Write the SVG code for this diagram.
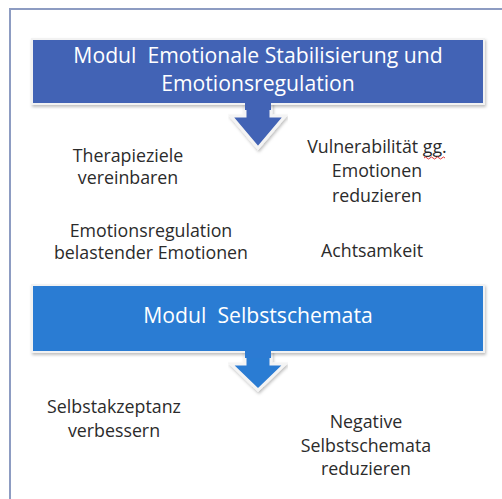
<svg xmlns="http://www.w3.org/2000/svg" width="502" height="499" viewBox="0 0 502 499">
<defs>
<style>
.frame{stroke:#8d9cc2;stroke-width:2;fill:none}
.t{font-family:"Open Sans","Noto Sans","Liberation Sans",sans-serif;fill:#2b2b2b;font-size:17.8px;text-anchor:middle}
.h{font-family:"Open Sans","Noto Sans","Liberation Sans",sans-serif;fill:#ffffff;font-size:21.2px;text-anchor:middle}
.edge{stroke:#f4f4f4;stroke-width:3;stroke-linejoin:miter}
</style>
<filter id="ds" x="-5%" y="-5%" width="110%" height="120%">
<feDropShadow dx="1" dy="2" stdDeviation="1.5" flood-color="#000" flood-opacity="0.25"/>
</filter>
</defs>
<rect width="502" height="499" fill="#ffffff"/>
<path class="frame" d="M10,499 V9 H502"/>
<g id="connectors">
<path id="arrow1" d="M245,100 V116 H231 L258,148 L285,116 H271 V100 Z" fill="#4263b5" class="edge" filter="url(#ds)"/>
<path id="arrow2" d="M245,348 V364 H231 L258,390 L285,364 H271 V348 Z" fill="#2c7bd3" class="edge" filter="url(#ds)"/>
</g>
<g id="modul1">
<rect x="32" y="39" width="452" height="65" fill="#4263b5" stroke="#f2f2f2" stroke-width="2" filter="url(#ds)"/>
<path d="M245,102 V110 H271 V102 Z" fill="#4263b5"/>
<text class="h" x="258" y="63" xml:space="preserve">Modul  Emotionale Stabilisierung und</text>
<text class="h" x="258" y="91">Emotionsregulation</text>
</g>
<g id="modul2">
<rect x="32" y="285" width="452" height="67" fill="#2c7bd3" stroke="#f2f2f2" stroke-width="2" filter="url(#ds)"/>
<path d="M245,350 V358 H271 V350 Z" fill="#2c7bd3"/>
<text class="h" x="258" y="323" xml:space="preserve">Modul  Selbstschemata</text>
</g>
<g id="therapieziele">
<text class="t" x="128" y="162">Therapieziele</text>
<text class="t" x="128" y="184">vereinbaren</text>
</g>
<g id="vulnerabilitaet">
<text class="t" x="377" y="153">Vulnerabilität gg.</text>
<text class="t" x="377" y="177">Emotionen</text>
<text class="t" x="377" y="202">reduzieren</text>
<path d="M424,158 q1.5,-2 3,0 t3,0 t3,0 t3,0 t3,0 t3,0 t3,0" fill="none" stroke="#e03a3a" stroke-width="1"/>
</g>
<g id="emotionsregulation">
<text class="t" x="151" y="237">Emotionsregulation</text>
<text class="t" x="151" y="259">belastender Emotionen</text>
</g>
<g id="achtsamkeit">
<text class="t" x="372" y="257">Achtsamkeit</text>
</g>
<g id="selbstakzeptanz">
<text class="t" x="114" y="413">Selbstakzeptanz</text>
<text class="t" x="114" y="437">verbessern</text>
</g>
<g id="negative">
<text class="t" x="366" y="428">Negative</text>
<text class="t" x="366" y="452">Selbstschemata</text>
<text class="t" x="366" y="475">reduzieren</text>
</g>
</svg>
